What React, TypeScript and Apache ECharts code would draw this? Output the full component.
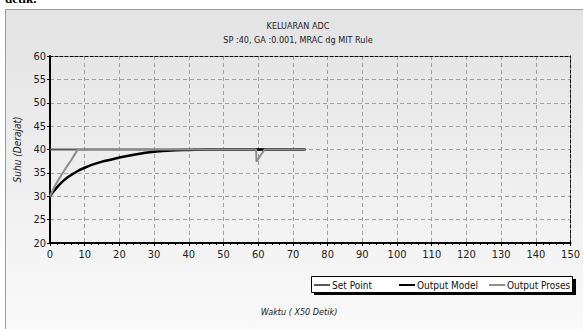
import React, { useEffect, useRef } from "react";
import * as echarts from "echarts";

const titleText = "KELUARAN ADC";
const subtitleText = "SP :40, GA :0.001, MRAC dg MIT Rule";
const xName = "Waktu ( X50 Detik)";
const yName = "Suhu (Derajat)";

const setPointData: [number, number][] = [
  [0, 40],
  [73.8, 40],
];

const modelX = [0, 1, 2, 3, 4, 5, 6, 8, 10, 12, 15, 18, 20, 25, 30, 35, 40, 45, 50, 59.4, 62, 73.5];
const modelY = [30, 31.0, 31.9, 32.7, 33.4, 34.0, 34.5, 35.4, 36.1, 36.7, 37.4, 37.9, 38.3, 39.0, 39.5, 39.8, 39.9, 40, 40, 40, 40, 40];

const prosesX = [0, 1, 2, 3, 4, 5, 6, 7, 8, 20, 40, 59.4, 59.5, 61.8, 73.5];
const prosesY = [30, 31.6, 33.0, 34.2, 35.4, 36.5, 37.6, 38.8, 40, 40, 40, 40, 37.4, 40, 40];

const seriesNames = ["Set Point", "Output Model", "Output Proses"];
const seriesColors = ["#5a5a5a", "#000000", "#8e8e8e"];

export default function App() {
  const ref = useRef<HTMLDivElement>(null);
  useEffect(() => {
    if (!ref.current) return;
    const chart = echarts.init(ref.current, undefined, { renderer: "svg" });
    const font = "'DejaVu Sans Condensed', 'Liberation Sans', sans-serif";
    const modelData = modelX.map((x, i) => [x, modelY[i]]);
    const prosesData = prosesX.map((x, i) => [x, prosesY[i]]);
    const legendLefts = [312, 397, 487];
    chart.setOption({
      animation: false,
      backgroundColor: "#ffffff",
      graphic: [
        {
          type: "text",
          left: 5,
          top: -8,
          z: 0,
          style: { text: "detik.", font: "bold 13px 'Liberation Serif', serif", fill: "#000" },
        },
        {
          type: "rect",
          shape: { x: 5.5, y: 9.5, width: 600, height: 340 },
          z: -10,
          style: {
            fill: new echarts.graphic.LinearGradient(0, 0, 0, 1, [
              { offset: 0, color: "#e3e3e3" },
              { offset: 1, color: "#fbfbfb" },
            ]),
            stroke: "#9a9a9a",
            lineWidth: 1,
          },
        },
        {
          type: "text",
          x: 298,
          y: 21,
          style: { text: titleText, font: `9px ${font}`, fill: "#222", align: "center" },
        },
        {
          type: "text",
          x: 298,
          y: 35,
          style: { text: subtitleText, font: `9px ${font}`, fill: "#222", align: "center" },
        },
        {
          type: "text",
          x: 299,
          y: 307,
          style: { text: xName, font: `italic 9px ${font}`, fill: "#222", align: "center" },
        },
        {
          type: "rect",
          shape: { x: 314, y: 279, width: 262, height: 16 },
          z: 5,
          style: { fill: "#000" },
        },
        {
          type: "rect",
          shape: { x: 311.5, y: 276.5, width: 261, height: 16 },
          z: 6,
          style: { fill: "#ffffff", stroke: "#000", lineWidth: 1 },
        },
      ],
      legend: seriesNames.map((n, i) => ({
        left: legendLefts[i],
        top: 278,
        z: 10,
        itemWidth: 16,
        itemHeight: 2,
        icon: "rect",
        textStyle: { fontFamily: font, fontSize: 10, color: "#111", padding: [0, 0, 0, -3] },
        padding: [2, 2],
        data: [n],
      })),
      grid: { left: 50, right: 11, top: 56, bottom: 86 },
      xAxis: [
        {
          type: "value",
          min: 0,
          max: 150,
          interval: 10,
          axisLine: { show: true, onZero: false, lineStyle: { color: "#000", width: 2 } },
          axisTick: { show: true, length: 3, lineStyle: { color: "#000" } },
          minorTick: { show: true, splitNumber: 5, length: 2, lineStyle: { color: "#000" } },
          axisLabel: { fontFamily: font, fontSize: 11, color: "#222", margin: 6 },
          splitLine: { show: true, lineStyle: { color: "#a0a0a0", type: [4, 3], width: 1 } },
        },
        {
          type: "value",
          position: "top",
          min: 0,
          max: 150,
          interval: 10,
          axisLine: { show: true, onZero: false, lineStyle: { color: "#000", width: 1, type: [3, 2] } },
          axisTick: { show: false },
          axisLabel: { show: false },
          splitLine: { show: false },
        },
      ],
      yAxis: [
        {
          type: "value",
          min: 20,
          max: 60,
          interval: 5,
          name: yName,
          nameLocation: "middle",
          nameGap: 22,
          nameTextStyle: { fontFamily: font, fontSize: 10, fontStyle: "italic", color: "#222" },
          axisLine: { show: true, onZero: false, lineStyle: { color: "#000", width: 2 } },
          axisTick: { show: true, length: 3, lineStyle: { color: "#000" } },
          axisLabel: { fontFamily: font, fontSize: 11, color: "#222", margin: 4 },
          splitLine: { show: true, lineStyle: { color: "#a0a0a0", type: [4, 3], width: 1 } },
        },
        {
          type: "value",
          position: "right",
          min: 20,
          max: 60,
          interval: 5,
          axisLine: { show: true, onZero: false, lineStyle: { color: "#000", width: 1, type: [3, 2] } },
          axisTick: { show: false },
          axisLabel: { show: false },
          splitLine: { show: false },
        },
      ],
      series: [
        {
          name: seriesNames[0],
          type: "line",
          data: setPointData,
          symbol: "none",
          lineStyle: { color: seriesColors[0], width: 2 },
          itemStyle: { color: seriesColors[0] },
          z: 2,
        },
        {
          name: seriesNames[1],
          type: "line",
          data: modelData,
          symbol: "none",
          smooth: 0.3,
          lineStyle: { color: seriesColors[1], width: 2.5 },
          itemStyle: { color: seriesColors[1] },
          z: 3,
        },
        {
          name: seriesNames[2],
          type: "line",
          data: prosesData,
          symbol: "none",
          lineStyle: { color: seriesColors[2], width: 2 },
          itemStyle: { color: seriesColors[2] },
          z: 4,
        },
      ],
    });
    return () => chart.dispose();
  }, []);
  return (
    <div
      ref={ref}
      style={{ position: "fixed", left: 0, top: 0, width: 583, height: 329 }}
    />
  );
}
